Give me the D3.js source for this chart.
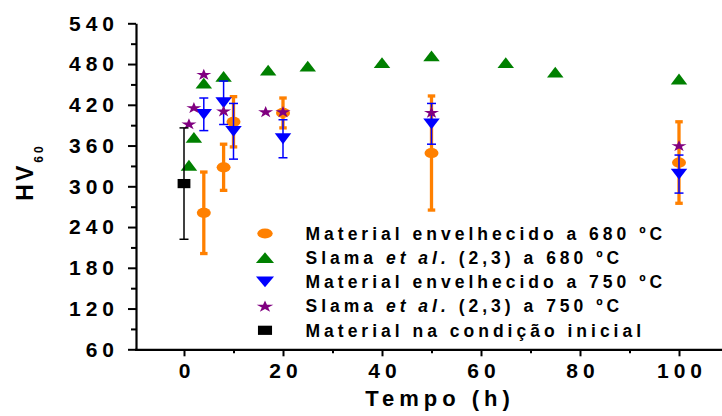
<!DOCTYPE html>
<html>
<head>
<meta charset="utf-8">
<script src="https://cdn.jsdelivr.net/npm/d3@7"></script>
<style>
  html, body { margin: 0; padding: 0; background: #fff; }
  svg { display: block; font-family: "Liberation Sans", Arial, sans-serif; font-weight: bold; }
</style>
</head>
<body>
<div id="chart"></div>
<script>
// Dados
const hours680 = [4, 8, 10, 20, 50, 100];
const hv680 = [261, 328, 395, 408, 349, 335];
const err680 = [60, 34, 37, 22, 84, 60];

const slama680Hours = [1, 2, 4, 8, 17, 25, 40, 50, 65, 75, 100];
const slama680Hv = [331, 372, 452, 462, 471, 477, 482, 492, 482, 468, 458];

const hours750 = [4, 8, 10, 20, 50, 100];
const hv750 = [406, 423, 381, 370, 392, 318];
const err750 = [24, 32, 41, 28, 30, 28];

const slama750Hours = [1, 2, 4, 8, 16.5, 20, 50, 100];
const slama750Hv = [392, 416, 465, 411, 410, 410, 409, 360];

const initialHours = [0];
const initialHv = [304];
const initialErr = [82];

const xTicks = [0, 20, 40, 60, 80, 100];
const xMinorTicks = [10, 30, 50, 70, 90, 110];
const yTicks = [60, 120, 180, 240, 300, 360, 420, 480, 540];
const yMinorTicks = [90, 150, 210, 270, 330, 390, 450, 510];

const legendLabels = [
  ["Material envelhecido a 680 ºC"],
  ["Slama ", "et al.", " (2,3) a 680 ºC"],
  ["Material envelhecido a 750 ºC"],
  ["Slama ", "et al.", " (2,3) a 750 ºC"],
  ["Material na condição inicial"],
];

const WIDTH = 722;
const HEIGHT = 416;

const svg = d3.select("#chart").append("svg")
  .attr("width", WIDTH)
  .attr("height", HEIGHT);

const x = d3.scaleLinear().domain([-10, 110]).range([134.5, 728.5]);
const y = d3.scaleLinear().domain([60, 540]).range([349.3, 23.3]);

// marcadores (a figura original é esticada na horizontal)
function triUp(w, h) { return `M0,${-h / 2}L${w / 2},${h / 2}L${-w / 2},${h / 2}Z`; }
function triDown(w, h) { return `M${-w / 2},${-h / 2}L${w / 2},${-h / 2}L0,${h / 2}Z`; }
const starPath = d3.symbol().type(d3.symbolStar).size(42)();

function drawMarker(g, kind, color, cx, cy, s = 1) {
  if (kind === "circle") {
    g.append("ellipse").attr("cx", cx).attr("cy", cy)
      .attr("rx", 7 * s).attr("ry", 5.1).attr("fill", color);
  } else if (kind === "up") {
    g.append("path").attr("d", triUp(16.5 * s, 10.8))
      .attr("transform", `translate(${cx},${cy})`).attr("fill", color);
  } else if (kind === "down") {
    g.append("path").attr("d", triDown(16.5 * s, 10.8))
      .attr("transform", `translate(${cx},${cy})`).attr("fill", color);
  } else if (kind === "star") {
    g.append("path").attr("d", starPath)
      .attr("transform", `translate(${cx},${cy + 0.6}) scale(${1.3 * s},1)`).attr("fill", color);
  } else if (kind === "square") {
    g.append("rect").attr("x", cx - 6.4 * s).attr("y", cy - 4.6)
      .attr("width", 12.8 * s).attr("height", 9.2).attr("fill", color);
  }
}

function drawErrors(xs, ys, es, color, lw, cap) {
  const g = svg.append("g").attr("stroke", color).attr("stroke-width", lw);
  xs.forEach((d, i) => {
    const cx = x(d);
    const top = y(ys[i] + es[i]);
    const bot = y(ys[i] - es[i]);
    g.append("line").attr("x1", cx).attr("x2", cx).attr("y1", top).attr("y2", bot);
    g.append("line").attr("x1", cx - cap / 2).attr("x2", cx + cap / 2).attr("y1", top).attr("y2", top);
    g.append("line").attr("x1", cx - cap / 2).attr("x2", cx + cap / 2).attr("y1", bot).attr("y2", bot);
  });
}

function drawSeries(xs, ys, kind, color) {
  const g = svg.append("g");
  xs.forEach((d, i) => drawMarker(g, kind, color, x(d), y(ys[i])));
}

// eixos
const yAxis = svg.append("g")
  .attr("transform", `translate(${x(-10) + 1.5},0)`)
  .call(d3.axisLeft(y).tickValues(yTicks).tickSize(8).tickSizeOuter(0).tickPadding(14));
svg.append("g")
  .attr("transform", `translate(${x(-10) + 1.5},0)`)
  .call(d3.axisLeft(y).tickValues(yMinorTicks).tickSize(5).tickSizeOuter(0).tickFormat(""))
  .call(g => g.select(".domain").remove());

const xAxis = svg.append("g")
  .attr("transform", `translate(0,${y(60)})`)
  .call(d3.axisBottom(x).tickValues(xTicks).tickSize(7).tickSizeOuter(0).tickPadding(7));
svg.append("g")
  .attr("transform", `translate(0,${y(60)})`)
  .call(d3.axisBottom(x).tickValues(xMinorTicks).tickSize(4).tickSizeOuter(0).tickFormat(""))
  .call(g => g.select(".domain").remove());

svg.selectAll(".domain").attr("stroke", "#000").attr("stroke-width", 2.2);
svg.selectAll(".tick line").attr("stroke", "#000").attr("stroke-width", 2);

yAxis.selectAll(".tick text")
  .attr("font-size", 21).attr("font-family", "Liberation Sans, Arial, sans-serif")
  .attr("font-weight", "bold").attr("fill", "#000")
  .style("letter-spacing", "5px")
  .attr("dx", 5);
xAxis.selectAll(".tick text")
  .attr("font-size", 21).attr("font-family", "Liberation Sans, Arial, sans-serif")
  .attr("font-weight", "bold").attr("fill", "#000")
  .style("letter-spacing", "5px")
  .attr("dx", 2.5);

// títulos dos eixos
svg.append("text")
  .attr("x", 440).attr("y", 406)
  .attr("text-anchor", "middle")
  .attr("font-size", 22)
  .style("letter-spacing", "5px")
  .text("Tempo (h)");

const yTitle = svg.append("text")
  .attr("transform", "translate(33,172) rotate(-90)")
  .attr("text-anchor", "middle")
  .attr("font-size", 23)
  .style("letter-spacing", "3px");
yTitle.append("tspan").text("HV");
yTitle.append("tspan").attr("font-size", 12).attr("dy", 10).text("60");

// séries
drawErrors(hours680, hv680, err680, "#FF8000", 3.3, 7.5);
drawSeries(hours680, hv680, "circle", "#FF8000");
drawSeries(slama680Hours, slama680Hv, "up", "#008000");
drawErrors(hours750, hv750, err750, "#0000FF", 1.5, 9);
drawSeries(hours750, hv750, "down", "#0000FF");
drawSeries(slama750Hours, slama750Hv, "star", "#800080");
drawErrors(initialHours, initialHv, initialErr, "#000", 1.5, 9);
drawSeries(initialHours, initialHv, "square", "#000");

// legenda
const legendKinds = ["circle", "up", "down", "star", "square"];
const legendColors = ["#FF8000", "#008000", "#0000FF", "#800080", "#000"];
const legend = svg.append("g");
legendLabels.forEach((parts, i) => {
  const ry = 233.5 + i * 24.2;
  drawMarker(legend, legendKinds[i], legendColors[i], 265, ry, 1.1);
  const t = legend.append("text")
    .attr("x", 305.5).attr("y", ry + 6.3)
    .attr("font-size", 17.5)
    .style("letter-spacing", "4px");
  parts.forEach(p => {
    t.append("tspan").attr("font-style", p === "et al." ? "italic" : null).text(p);
  });
});
</script>
</body>
</html>
